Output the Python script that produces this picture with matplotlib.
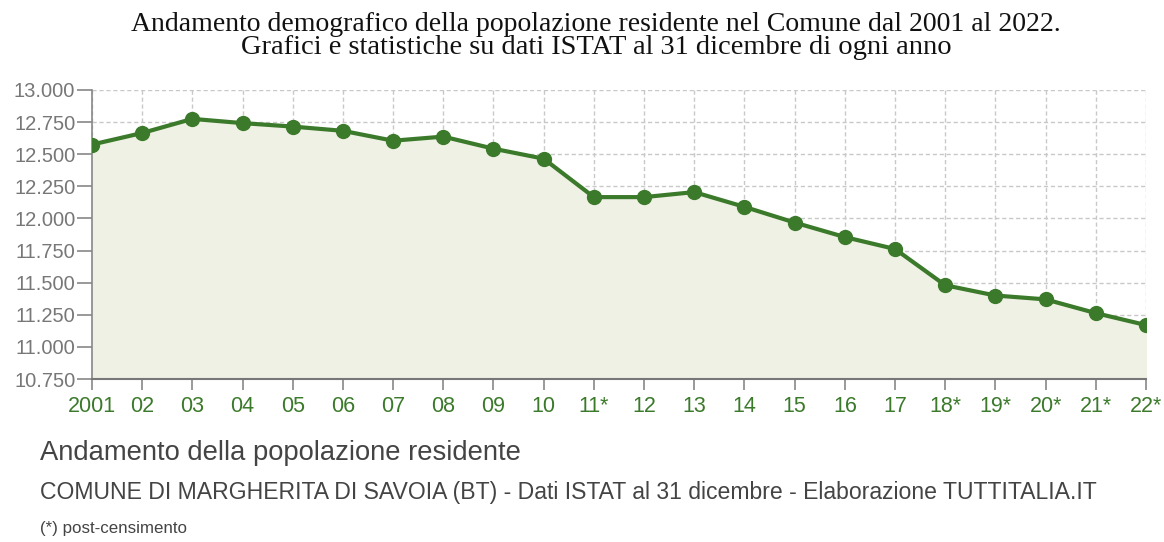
import matplotlib
matplotlib.use("Agg")
import matplotlib.pyplot as plt

years = list(range(2001, 2023))
population = [12575, 12665, 12775, 12742, 12715, 12682, 12605, 12637, 12543, 12465,
              12166, 12166, 12205, 12090, 11968, 11855, 11762, 11480, 11400, 11370,
              11263, 11170]
x_labels = ["2001", "02", "03", "04", "05", "06", "07", "08", "09", "10", "11*",
            "12", "13", "14", "15", "16", "17", "18*", "19*", "20*", "21*", "22*"]
y_ticks = [10750, 11000, 11250, 11500, 11750, 12000, 12250, 12500, 12750, 13000]

green = "#3c7a2b"
ymin, ymax = 10750, 13000

fig = plt.figure(figsize=(11.64, 5.42), dpi=100)
ax = fig.add_axes([0.079, 0.3007, 0.9055, 0.5333])

ax.fill_between(years, population, ymin, color="#eff1e4", zorder=1)
ax.plot(years, population, color=green, lw=3, marker="o", markersize=10, zorder=3)

ax.set_xlim(2001, 2022)
ax.set_ylim(ymin, ymax)
ax.set_xticks(years)
ax.set_xticklabels(x_labels)
ax.set_yticks(y_ticks)
ax.set_yticklabels([f"{v:,}".replace(",", ".") for v in y_ticks])

ax.grid(True, ls=(0, (3, 2)), color="#c8c8c8", lw=1, zorder=0)
ax.set_axisbelow(True)
for s in ["top", "right"]:
    ax.spines[s].set_visible(False)
ax.spines["left"].set_color("#888888")
ax.spines["bottom"].set_color("#777777")
ax.spines["left"].set_linewidth(1.2)
ax.spines["bottom"].set_linewidth(1.5)

ax.tick_params(axis="y", length=11, width=1.2, color="#888888", labelcolor="#777777",
               labelsize=14.5, pad=1)
ax.tick_params(axis="x", length=8, width=1.2, color="#888888", labelcolor=green,
               labelsize=15.5, pad=4)
for lab in ax.get_xticklabels() + ax.get_yticklabels():
    lab.set_family("Liberation Sans")

fig.text(0.512, 1 - 31 / 542, "Andamento demografico della popolazione residente nel Comune dal 2001 al 2022.",
         ha="center", va="baseline", fontsize=20, family="Liberation Serif", color="#111111")
fig.text(0.512, 1 - 54 / 542, "Grafici e statistiche su dati ISTAT al 31 dicembre di ogni anno",
         ha="center", va="baseline", fontsize=20.5, family="Liberation Serif", color="#111111")

fig.text(0.034, 1 - 453 / 542, "Andamento della popolazione residente", fontsize=19.7,
         family="Liberation Sans", color="#444444", va="center")
fig.text(0.034, 1 - 493 / 542, "COMUNE DI MARGHERITA DI SAVOIA (BT) - Dati ISTAT al 31 dicembre - Elaborazione TUTTITALIA.IT",
         fontsize=16.6, family="Liberation Sans", color="#444444", va="center")
fig.text(0.034, 1 - 528 / 542, "(*) post-censimento", fontsize=12.2,
         family="Liberation Sans", color="#444444", va="center")

fig.savefig("out.png", dpi=100, facecolor="white")
